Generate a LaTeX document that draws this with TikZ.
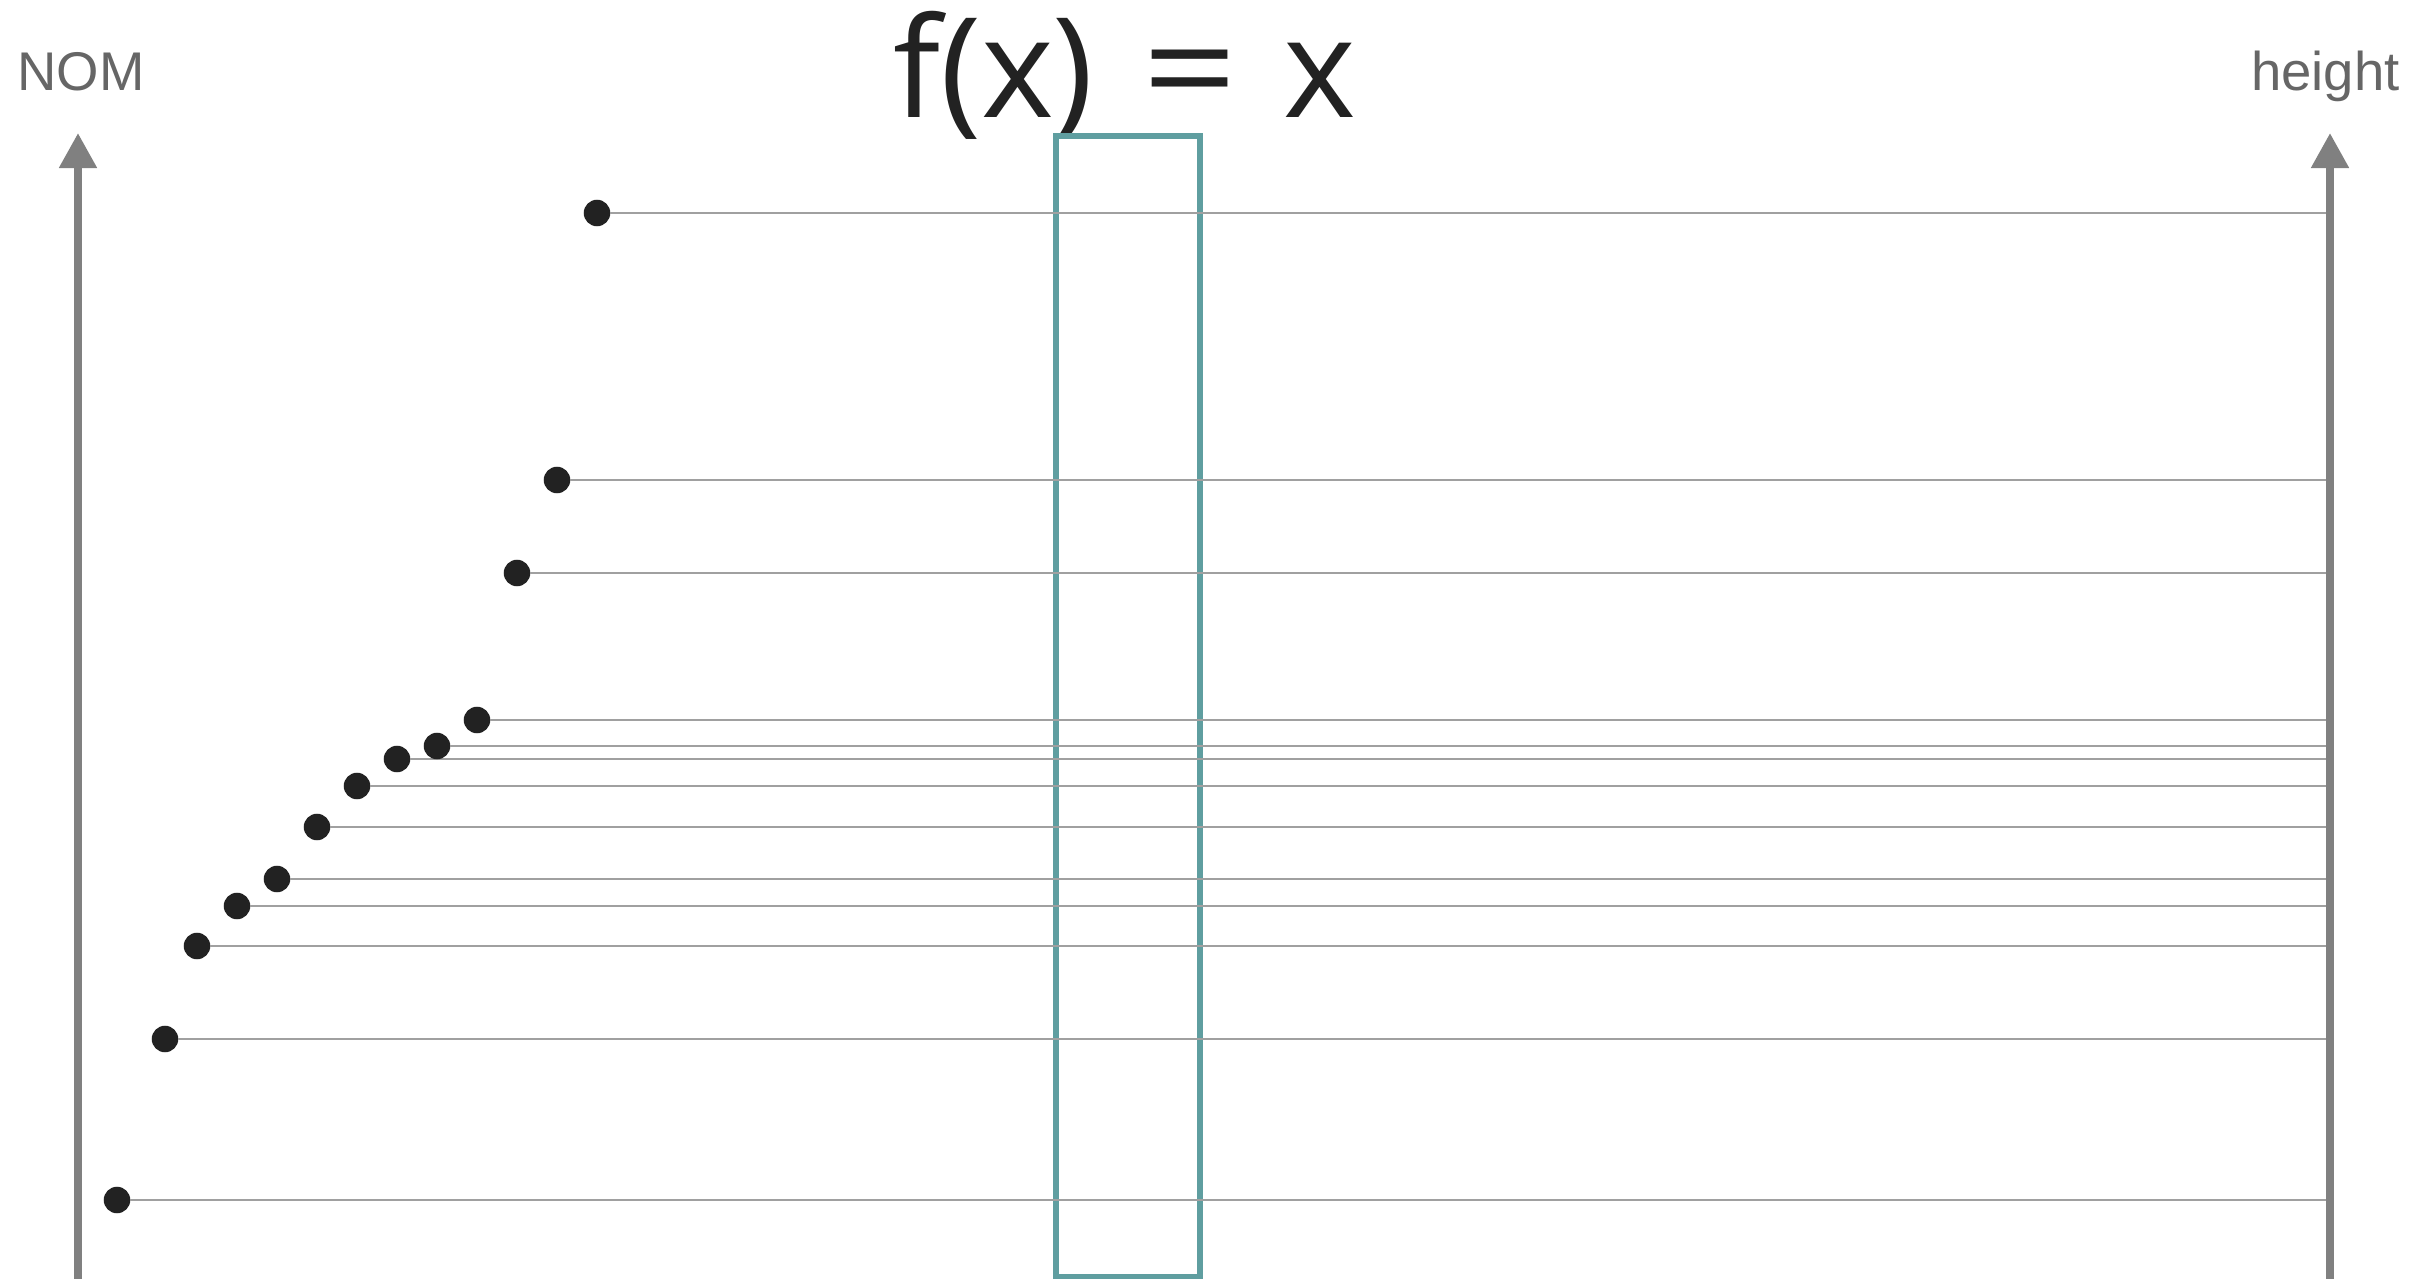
\documentclass[tikz,border=0pt]{standalone}
\usepackage{fontspec}
\usepackage{graphicx}
\setmainfont{Liberation Sans}
\newfontfamily\titlefont{Open Sans}
\usetikzlibrary{arrows.meta}
\definecolor{axisgray}{HTML}{808080}
\definecolor{linegray}{HTML}{A0A0A0}
\definecolor{dotblack}{HTML}{222222}
\definecolor{labelgray}{HTML}{666666}
\definecolor{boxteal}{HTML}{5F9EA0}
\tikzset{
  axisline/.style={draw=axisgray, line width=0.08cm, -{Triangle[length=0.35cm,width=0.36cm]}},
  hline/.style={draw=linegray, line width=0.02cm},
  dotnode/.style={circle, fill=dotblack, minimum size=0.265cm, inner sep=0pt, outer sep=0pt},
  axlabel/.style={text=labelgray, font=\fontsize{15.5}{18}\selectfont, anchor=base, inner sep=0pt},
  titlelabel/.style={text=dotblack, font=\titlefont\fontsize{39.5}{44}\selectfont, anchor=base west, inner sep=0pt},
  winbox/.style={draw=boxteal, line width=0.06cm, minimum width=1.44cm, minimum height=11.41cm, inner sep=0pt, outer sep=0pt}
}
\begin{document}
\begin{tikzpicture}[x=0.01cm, y=-0.01cm]
\useasboundingbox (0,0) rectangle (2432,1279);
% axes
\coordinate (lbot) at (78,1285);
\coordinate (ltop) at (78,133);
\coordinate (rbot) at (2330,1285);
\coordinate (rtop) at (2330,133);
\coordinate (rend) at (2326,0);
\draw[axisline] (lbot) -- (ltop);
\draw[axisline] (rbot) -- (rtop);
\node[axlabel] (nom) at (81,90.7) {NOM};
\node[axlabel] (hgt) at (2325.5,90.7) {height};
% title and box
\node[titlelabel] (title) at (893,118) {f(x\kern-0.02cm)\hspace{0.49cm}\scalebox{1.2}[1]{=}\hspace{0.45cm}x};
\node[winbox] (box) at (1128,706.5) {};
% dots
\foreach \i/\x/\y in {1/117/1200, 2/165/1039, 3/197/946, 4/237/906, 5/277/879, 6/317/827, 7/357/786, 8/397/759, 9/437/746, 10/477/720, 11/517/573, 12/557/480, 13/597/213}{
  \node[dotnode] (d\i) at (\x,\y) {};
  \draw[hline] (d\i.east) -- (d\i -| rend);
}
\end{tikzpicture}
\end{document}
